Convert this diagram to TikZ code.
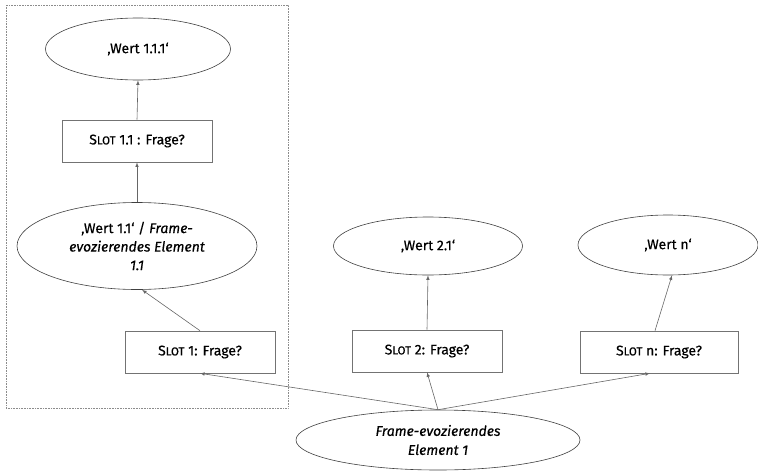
\documentclass[tikz,border=0pt]{standalone}
\usepackage{fontspec}
\setmainfont{Fira Sans}[FakeBold=0.4]
\usetikzlibrary{shapes.geometric}
\newcommand{\slotname}[1]{S{\fontsize{11.5}{13}\selectfont LOT}~#1}

\tikzset{
  wert/.style={ellipse, draw=black!75, line width=0.6pt, inner sep=0pt, align=center},
  slotbox/.style={rectangle, draw=black!55, line width=0.6pt, minimum width=150pt, minimum height=42pt, inner sep=0pt},
  pfeil/.style={->, >=latex, draw=black!60, line width=0.6pt}
}

\begin{document}
\begin{tikzpicture}[x=1pt, y=-1pt, font=\fontsize{14}{18.5}\selectfont\addfontfeature{FakeBold=0.4}]
\useasboundingbox (0,0) rectangle (758,474);
\draw[black!45, densely dotted, line width=0.6pt] (6,5) rectangle (288,408);

\node[wert, minimum width=185pt, minimum height=62pt] (wert111) at (138,49) {‚Wert 1.1.1‘};
\node[slotbox] (slot11) at (137,141) {\slotname{1.1 : Frage?}};
\node[wert, minimum width=240pt, minimum height=87pt] (wert11) at (137,246)
  {‚Wert 1.1‘ / \textit{Frame-}\\\textit{evozierendes Element}\\\textit{1.1}};
\node[slotbox] (slot1) at (200,352) {\slotname{1: Frage?}};

\node[wert, minimum width=189pt, minimum height=58pt] (wert21) at (428,246) {‚Wert 2.1‘};
\node[slotbox] (slot2) at (427,351) {\slotname{2: Frage?}};

\node[wert, minimum width=180pt, minimum height=60pt] (wertn) at (668,245) {‚Wert n‘};
\node[slotbox, minimum width=158pt] (slotn) at (659,352) {\slotname{n: Frage?}};

\node[wert, minimum width=284pt, minimum height=60pt, font=\fontsize{14}{19}\selectfont\itshape] (fe1) at (438,440)
  {Frame-evozierendes\\Element 1};

\draw[pfeil] (fe1.north) -- (slot1.south);
\draw[pfeil] (fe1.north) -- (slot2.south);
\draw[pfeil] (fe1.north) -- ([xshift=-9pt]slotn.south);
\draw[pfeil] (slot1.north) -- ([xshift=5pt]wert11.south);
\draw[pfeil] (wert11.north) -- (slot11.south);
\draw[pfeil] (slot11.north) -- (wert111.south);
\draw[pfeil] (slot2.north) -- (wert21.south);
\draw[pfeil] ([xshift=-4pt]slotn.north) -- ([xshift=4pt]wertn.south);

\end{tikzpicture}
\end{document}
